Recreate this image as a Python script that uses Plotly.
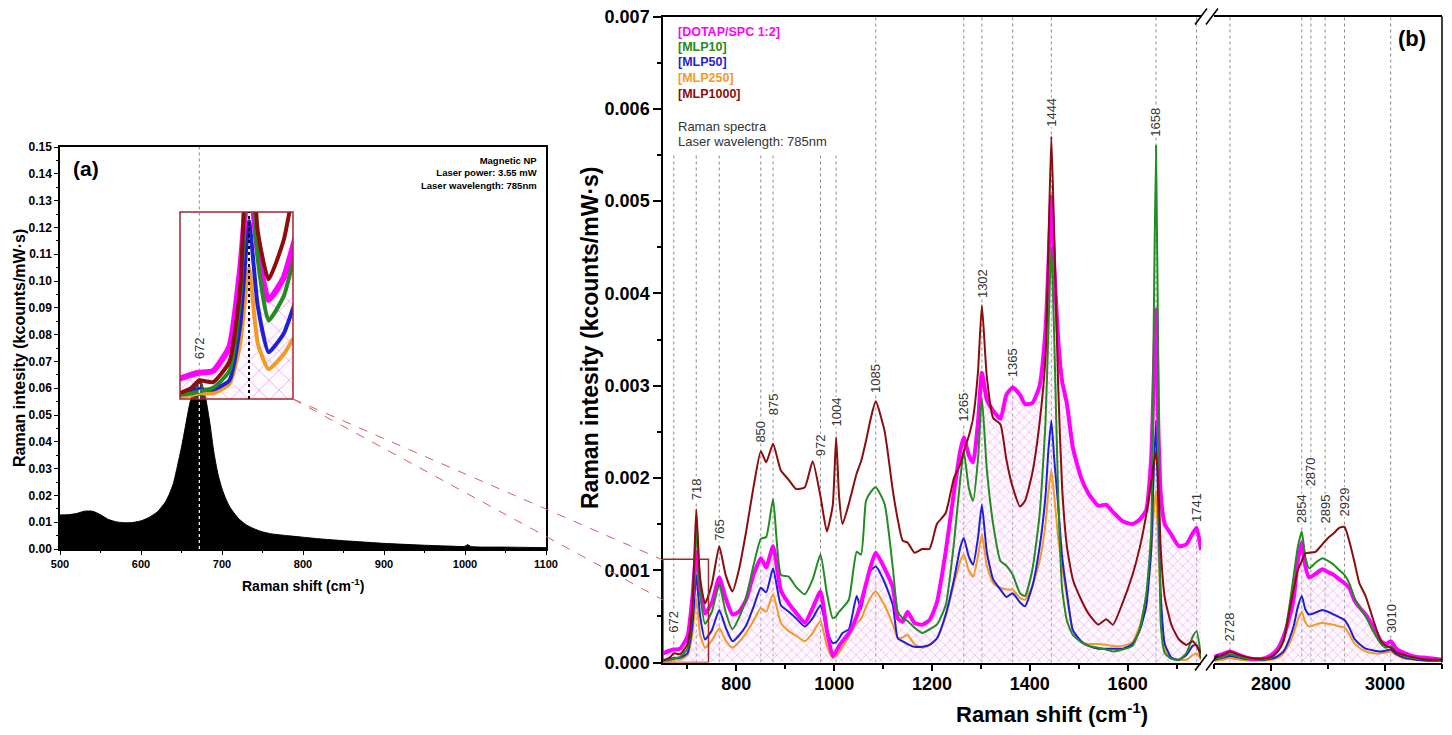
import plotly.graph_objects as go

FONT = "Liberation Sans"
PAGE_W, PAGE_H = 1452, 735
OFF = 8                       # default page body margin of the html page
W, H = PAGE_W - 2 * OFF, PAGE_H - 2 * OFF

# ---------------- panel (a): magnetic NP spectrum ----------------
np_shift = [500, 510, 520, 530, 540, 550, 560, 570, 580, 590, 600, 610, 620, 630, 635, 640, 645,
            650, 655, 660, 665, 670, 672, 675, 680, 685, 690, 695, 700, 705, 710, 720, 730, 740,
            750, 760, 780, 800, 820, 850, 880, 900, 950, 980, 1000, 1003, 1008, 1050, 1100]
np_int = [0.0127, 0.0128, 0.0132, 0.0141, 0.0141, 0.0128, 0.0110, 0.0101, 0.0098, 0.0099, 0.0105,
          0.0118, 0.0138, 0.0175, 0.0205, 0.0245, 0.031, 0.038, 0.046, 0.054, 0.060, 0.063, 0.0635,
          0.062, 0.056, 0.047, 0.036, 0.028, 0.0225, 0.0185, 0.0155, 0.0115, 0.009, 0.0075, 0.0064,
          0.0057, 0.005, 0.0044, 0.0038, 0.0031, 0.0025, 0.0021, 0.0014, 0.0011, 0.001, 0.0016,
          0.0009, 0.0007, 0.0005]

# ---------------- panel (b): liposome spectra ----------------
UNIT = 1e-4  # intensities below are in 1e-4 kcounts/mW·s
shift_lo = [650, 665, 672, 685, 700, 710, 718, 726, 736, 750,
            765, 778, 792, 805, 820, 835, 850, 861, 875, 891,
            907, 922, 940, 956, 972, 985, 997, 1004, 1010, 1017,
            1030, 1046, 1055, 1065, 1075, 1085, 1103, 1120, 1130, 1140,
            1150, 1164, 1180, 1195, 1210, 1228, 1245, 1258, 1265, 1275,
            1284, 1294, 1302, 1312, 1325, 1340, 1352, 1365, 1380, 1390,
            1405, 1420, 1432, 1438, 1444, 1450, 1458, 1466, 1476, 1488,
            1505, 1520, 1540, 1556, 1570, 1590, 1610, 1625, 1638, 1648,
            1653, 1658, 1663, 1668, 1676, 1690, 1705, 1720, 1733, 1741,
            1750]
dotap_lo = [1.0, 1.3, 1.4, 1.5, 2.8, 7.0, 12.0, 8.0, 5.3, 6.5,
            9.2, 7.0, 5.2, 5.5, 6.8, 9.5, 11.3, 10.3, 12.6, 7.8,
            6.4, 5.4, 4.3, 5.9, 7.7, 3.5, 0.7, 1.2, 1.8, 2.3,
            3.2, 5.0, 6.5, 8.5, 10.5, 11.9, 10.2, 8.1, 4.8, 4.4,
            5.5, 4.3, 4.1, 4.6, 6.5, 12.0, 18.5, 23.0, 24.4, 22.5,
            21.7, 26.0, 31.4, 28.5, 27.3, 26.4, 29.0, 29.8, 29.0, 28.0,
            28.1, 30.0, 36.0, 43.0, 50.5, 43.0, 35.0, 30.5, 28.0, 23.3,
            20.0, 18.3, 17.0, 17.1, 16.3, 15.3, 15.0, 15.5, 16.5, 22.0,
            30.0, 38.2, 25.0, 18.0, 15.0, 13.8, 12.6, 12.8, 14.0, 14.6,
            12.2]
mlp10_lo = [0.2, 0.3, 0.4, 0.6, 1.5, 5.5, 14.5, 7.5, 4.2, 5.5,
            8.5, 5.5, 3.6, 4.8, 7.0, 10.5, 13.4, 13.6, 17.7, 9.5,
            9.3, 8.2, 7.4, 9.0, 11.7, 7.5, 4.8, 5.0, 5.5, 5.9,
            6.8, 12.0, 11.7, 17.5, 18.5, 19.0, 17.2, 10.2, 5.5, 4.8,
            4.5, 3.8, 3.2, 3.6, 4.1, 6.2, 13.0, 20.0, 22.9, 19.0,
            17.5, 22.0, 28.7, 21.0, 15.0, 11.0, 10.5, 9.5, 7.5, 7.2,
            10.0, 16.0, 26.0, 36.0, 45.0, 35.0, 18.0, 8.0, 4.5, 3.0,
            2.2, 1.8, 1.6, 1.4, 1.2, 1.4, 1.8, 3.7, 7.4, 14.0,
            35.0, 56.0, 30.0, 4.0, 1.0, 0.4, 0.3, 1.0, 2.8, 3.4,
            0.6]
mlp50_lo = [0.2, 0.4, 0.5, 0.5, 1.0, 4.0, 9.5, 5.0, 2.5, 3.5,
            5.7, 3.8, 2.3, 2.9, 4.0, 6.0, 8.1, 7.6, 10.2, 6.2,
            5.5, 4.8, 3.9, 4.8, 6.2, 3.5, 2.1, 2.2, 2.6, 3.2,
            3.6, 7.2, 5.8, 8.5, 10.0, 10.4, 8.7, 6.2, 2.6, 2.3,
            2.0, 1.7, 1.7, 1.9, 2.6, 5.2, 9.0, 12.5, 13.5, 11.5,
            10.6, 13.5, 17.1, 12.0, 9.0, 7.9, 7.1, 7.5, 6.5, 6.1,
            8.2, 12.5, 18.0, 23.0, 26.2, 22.0, 17.0, 11.5, 7.5, 3.5,
            2.3, 1.8, 1.5, 1.5, 1.5, 1.5, 2.0, 3.5, 6.1, 12.0,
            20.0, 26.2, 16.0, 7.0, 2.0, 0.5, 0.3, 0.8, 1.8, 1.9,
            0.5]
mlp250_lo = [0.1, 0.2, 0.3, 0.3, 0.8, 3.0, 7.0, 3.0, 1.6, 2.4,
             3.7, 2.4, 1.6, 2.2, 3.2, 4.5, 5.9, 5.5, 7.4, 4.3,
             3.4, 2.9, 2.3, 3.2, 4.5, 1.8, 0.5, 0.7, 1.1, 1.7,
             2.8, 4.3, 4.7, 6.0, 7.1, 7.7, 6.2, 4.1, 2.7, 2.7,
             3.0, 2.0, 1.6, 1.9, 2.6, 5.0, 8.5, 11.0, 11.7, 10.0,
             9.3, 11.5, 13.9, 10.5, 8.6, 8.1, 7.9, 7.9, 7.0, 6.8,
             8.3, 11.0, 15.0, 18.5, 20.8, 18.0, 13.5, 10.5, 7.0, 3.5,
             2.2, 2.0, 2.0, 1.9, 1.8, 1.8, 2.2, 4.0, 7.0, 12.0,
             16.0, 18.6, 12.0, 6.0, 1.5, 0.4, 0.3, 0.3, 0.8, 1.0,
             0.3]
mlp1000_lo = [0.2, 0.6, 1.0, 0.9, 2.0, 6.0, 16.6, 9.0, 6.4, 8.5,
              12.6, 9.5, 7.7, 10.0, 14.2, 19.0, 22.9, 21.7, 23.7, 20.8,
              19.8, 18.8, 19.0, 21.8, 18.0, 14.2, 17.0, 24.4, 18.0, 15.0,
              17.2, 20.5, 21.8, 24.0, 26.5, 28.3, 25.1, 18.6, 15.5, 13.2,
              13.0, 11.9, 12.3, 12.3, 15.0, 16.2, 20.0, 21.5, 22.9, 24.5,
              26.5, 31.5, 38.7, 31.0, 26.5, 25.8, 22.0, 19.0, 16.9, 17.5,
              20.5, 26.0, 33.0, 45.0, 57.0, 46.0, 30.0, 19.0, 12.5, 9.0,
              6.8, 5.3, 4.1, 4.7, 4.1, 6.5, 9.5, 12.5, 16.0, 19.5,
              21.5, 22.8, 19.0, 12.0, 7.0, 4.0, 2.5, 1.9, 2.3, 1.8,
              1.0]

shift_hi = [2700, 2715, 2728, 2745, 2765, 2785, 2800, 2812, 2822, 2832,
            2840, 2847, 2854, 2860, 2867, 2878, 2890, 2900, 2910, 2920,
            2929, 2938, 2946, 2955, 2966, 2980, 2993, 3002, 3010, 3020,
            3035, 3055, 3075, 3100]
dotap_hi = [0.6, 0.9, 1.2, 0.8, 0.4, 0.4, 0.8, 1.5, 2.8, 4.8,
            7.0, 11.0, 13.0, 10.5, 9.2, 9.6, 10.1, 9.8, 9.5, 9.0,
            8.6, 8.0, 6.8, 6.0, 5.2, 3.8, 2.3, 2.0, 2.3, 1.5,
            1.0, 0.6, 0.5, 0.3]
mlp10_hi = [0.4, 0.6, 0.9, 0.6, 0.4, 0.3, 0.5, 1.2, 2.5, 6.0,
            9.5, 12.5, 14.2, 11.5, 10.2, 10.8, 11.3, 11.0, 10.6, 10.0,
            9.5, 8.5, 7.0, 6.0, 5.0, 3.3, 2.0, 1.6, 1.8, 1.1,
            0.7, 0.4, 0.3, 0.2]
mlp50_hi = [0.3, 0.5, 0.7, 0.5, 0.3, 0.3, 0.4, 0.7, 1.2, 2.5,
            4.0, 6.0, 7.2, 5.8, 5.2, 5.4, 5.7, 5.5, 5.2, 4.9,
            4.6, 3.7, 2.6, 2.0, 1.5, 1.3, 1.2, 1.3, 1.4, 0.9,
            0.5, 0.3, 0.2, 0.2]
mlp250_hi = [0.2, 0.3, 0.5, 0.3, 0.2, 0.2, 0.3, 0.5, 1.0, 2.0,
             3.2, 4.6, 5.5, 4.4, 3.9, 4.1, 4.3, 4.2, 4.1, 3.9,
             3.8, 3.0, 2.1, 1.6, 1.2, 1.0, 1.0, 1.1, 1.2, 0.8,
             0.4, 0.3, 0.2, 0.2]
mlp1000_hi = [0.5, 0.8, 1.2, 0.8, 0.5, 0.4, 0.6, 1.2, 2.3, 5.5,
              8.0, 10.0, 11.0, 11.8, 11.9, 12.0, 12.8, 13.5, 14.0, 14.6,
              14.7, 13.0, 11.0, 8.6, 7.2, 4.5, 2.3, 1.8, 1.6, 1.1,
              0.8, 0.5, 0.3, 0.3]

series_names = ["[DOTAP/SPC 1:2]", "[MLP10]", "[MLP50]", "[MLP250]", "[MLP1000]"]
series_colors = ["#FF00FF", "#228B22", "#1F1FD8", "#F39A26", "#8B0D0D"]

peaks_lo = [672, 718, 765, 850, 875, 972, 1004, 1085, 1265, 1302, 1365, 1444, 1658, 1741]
peaks_lo_label_y = [0.00044, 0.00188, 0.00144, 0.00250, 0.00280, 0.00236, 0.00271, 0.00308,
                    0.00277, 0.00411, 0.00325, 0.00596, 0.00585, 0.00168]
peaks_lo_top = [0.00551, 0.00551, 0.00551, 0.00551, 0.00551, 0.00551, 0.00551, 0.007,
                0.007, 0.007, 0.007, 0.007, 0.007, 0.007]
peaks_hi = [2728, 2854, 2870, 2895, 2929, 3010]
peaks_hi_label_y = [0.00039, 0.00167, 0.00207, 0.00166, 0.00174, 0.00048]

# ---------------- layout helpers (page pixels -> paper fractions) ----------------
def px(x):
    return (x - OFF) / W


def py(y):
    return 1 - (y - OFF) / H


lo_sets = [dotap_lo, mlp10_lo, mlp50_lo, mlp250_lo, mlp1000_lo]
hi_sets = [dotap_hi, mlp10_hi, mlp50_hi, mlp250_hi, mlp1000_hi]
for s in lo_sets:
    assert len(s) == len(shift_lo)
for s in hi_sets:
    assert len(s) == len(shift_hi)

fig = go.Figure()

# panel (a) spectrum
fig.add_trace(go.Scatter(x=np_shift, y=np_int, xaxis="x", yaxis="y", mode="lines",
                         line=dict(color="black", width=1, shape="spline", smoothing=0.6),
                         fill="tozeroy", fillcolor="black", hoverinfo="skip"))

HATCH = "rgba(225,110,225,0.7)"


def add_group(xs, sets, xa, ya, widths, hatch_size, solidity):
    scaled = [[v * UNIT for v in s] for s in sets]
    # crosshatch fill under DOTAP/SPC
    fig.add_trace(go.Scatter(x=xs, y=scaled[0], xaxis=xa, yaxis=ya, mode="lines",
                             line=dict(color="rgba(0,0,0,0)", width=0, shape="spline", smoothing=0.5),
                             fill="tozeroy", fillcolor="rgba(0,0,0,0)",
                             fillpattern=dict(shape="x", fgcolor=HATCH, bgcolor="rgba(255,235,255,0.25)",
                                              size=hatch_size, solidity=solidity),
                             hoverinfo="skip"))
    for i in [3, 2, 0, 1, 4]:
        fig.add_trace(go.Scatter(x=xs, y=scaled[i], xaxis=xa, yaxis=ya, mode="lines",
                                 line=dict(color=series_colors[i], width=widths[i],
                                           shape="spline", smoothing=0.5),
                                 hoverinfo="skip"))


add_group(shift_lo, lo_sets, "x2", "y2", [4, 2, 2, 2, 2], 7, 0.15)
add_group(shift_hi, hi_sets, "x4", "y2", [4, 2, 2, 2, 2], 7, 0.15)
add_group(shift_lo, lo_sets, "x3", "y3", [6, 4, 4, 4, 4], 14, 0.1)

tick_a_x = dict(family=FONT, size=11, color="black", weight="bold")
tick_a_y = dict(family=FONT, size=12, color="black", weight="bold")
tick_bold_b = dict(family=FONT, size=18, color="black", weight="bold")
common = dict(showline=True, linecolor="black", linewidth=1.5, ticks="outside", tickcolor="black",
              showgrid=False, zeroline=False, fixedrange=True, automargin=False,
              ticklabeloverflow="allow")

fig.update_layout(
    template="none",
    width=W, height=H, margin=dict(l=0, r=0, t=0, b=0, pad=0), autosize=False,
    paper_bgcolor="white", plot_bgcolor="rgba(0,0,0,0)", showlegend=False,
    xaxis=dict(domain=[px(60), px(546)], anchor="y", range=[500, 1100], tick0=500, dtick=100,
               ticklen=4, tickwidth=1, mirror=True, tickfont=tick_a_x,
               minor=dict(dtick=50, ticks="outside", ticklen=2, tickcolor="black", showgrid=False),
               **common),
    yaxis=dict(domain=[py(549), py(147)], anchor="x", range=[0, 0.150001], tick0=0, dtick=0.01,
               tickformat=".2f", ticklen=4, tickwidth=1, mirror=True, tickfont=tick_a_y,
               minor=dict(dtick=0.005, ticks="outside", ticklen=2, tickcolor="black", showgrid=False),
               **common),
    xaxis3=dict(domain=[px(180), px(293)], anchor="y3", range=[654.5, 758.5], visible=False,
                automargin=False, fixedrange=True),
    yaxis3=dict(domain=[py(399), py(212)], anchor="x3", range=[0, 0.001], visible=False,
                automargin=False, fixedrange=True),
    xaxis2=dict(domain=[px(663), px(1201)], anchor="y2", range=[650, 1750], tick0=800, dtick=200,
                ticklen=7, tickwidth=1.5, mirror=True, tickfont=tick_bold_b, ticklabelstandoff=-3,
                minor=dict(dtick=100, ticks="outside", ticklen=5, tickwidth=1.5, tickcolor="black",
                           showgrid=False),
                **common),
    xaxis4=dict(domain=[px(1214), px(1442)], anchor="y2", range=[2700, 3100], tick0=2800, dtick=200,
                ticklen=7, tickwidth=1.5, mirror=True, tickfont=tick_bold_b, ticklabelstandoff=-3,
                minor=dict(dtick=100, ticks="outside", ticklen=5, tickwidth=1.5, tickcolor="black",
                           showgrid=False),
                **common),
    yaxis2=dict(domain=[py(662.5), py(16.5)], anchor="x2", range=[0, 0.0070001], tick0=0, dtick=0.001,
                tickformat=".3f", ticklen=8, tickwidth=1.5, mirror=False, tickfont=tick_bold_b,
                minor=dict(dtick=0.0005, ticks="outside", ticklen=4, tickwidth=1.5, tickcolor="black",
                           showgrid=False),
                **common),
)

shapes = []
DOT = dict(color="#8a8a8a", width=1, dash="dot")
for xv, top in zip(peaks_lo, peaks_lo_top):
    shapes.append(dict(type="line", xref="x2", yref="y2", x0=xv, x1=xv, y0=0, y1=top,
                       line=DOT, layer="below"))
for xv in peaks_hi:
    shapes.append(dict(type="line", xref="x4", yref="y2", x0=xv, x1=xv, y0=0, y1=0.007,
                       line=DOT, layer="below"))
# right frame of panel (b)
shapes.append(dict(type="line", xref="paper", yref="paper", x0=px(1442), x1=px(1442),
                   y0=py(662.5), y1=py(16.5), line=dict(color="black", width=1.5)))
# axis-break marks
for yb in (16.5, 662.5):
    for xb in (1195, 1206):
        shapes.append(dict(type="line", xref="paper", yref="paper", x0=px(xb), x1=px(xb + 12),
                           y0=py(yb + 8), y1=py(yb - 8), line=dict(color="black", width=1.5)))
# zoom box in panel (b)
RED = "#A3262C"
shapes.append(dict(type="rect", xref="x2", yref="y2", x0=650, x1=743, y0=0, y1=0.00112,
                   line=dict(color=RED, width=1.5)))
# inset frame in panel (a)
shapes.append(dict(type="rect", xref="x3 domain", yref="y3 domain", x0=0, x1=1, y0=0, y1=1,
                   line=dict(color=RED, width=1.5)))
# inset 718 marker
shapes.append(dict(type="line", xref="x3", yref="y3 domain", x0=718, x1=718, y0=0, y1=1,
                   line=dict(color="black", width=2, dash="dot")))
# 672 line in panel (a)
shapes.append(dict(type="line", xref="x", yref="y", x0=672, x1=672, y0=0.064, y1=0.15,
                   line=dict(color="#8a8a8a", width=1, dash="dot")))
shapes.append(dict(type="line", xref="x", yref="y", x0=672, x1=672, y0=0, y1=0.062,
                   line=dict(color="white", width=1.2, dash="dot")))
# connection lines
for yend in (560, 600):
    shapes.append(dict(type="line", xref="paper", yref="paper", x0=px(293), y0=py(399),
                       x1=px(663), y1=py(yend), line=dict(color="#D06060", width=1, dash="dash")))
fig.update_layout(shapes=shapes)

ann = []
LBL = dict(family=FONT, size=13, color="#333333")


def note(**kw):
    base = dict(showarrow=False, xanchor="center", yanchor="middle")
    base.update(kw)
    ann.append(base)


for xv, yv in zip(peaks_lo, peaks_lo_label_y):
    note(x=xv, y=yv, xref="x2", yref="y2", text=str(xv), textangle=-90,
         font=LBL, bgcolor="white", borderpad=0)
for xv, yv in zip(peaks_hi, peaks_hi_label_y):
    note(x=xv, y=yv, xref="x4", yref="y2", text=str(xv), textangle=-90,
         font=LBL, bgcolor="white", borderpad=0)
note(x=672, y=0.075, xref="x", yref="y", text="672", textangle=-90,
     font=LBL, bgcolor="white", borderpad=0)

# legend text for (b)
leg_y = [31.5, 47, 62.5, 78, 94]
for name, col, yy in zip(series_names, series_colors, leg_y):
    note(x=px(676), y=py(yy), xref="paper", yref="paper", text=name, xanchor="left",
         font=dict(family=FONT, size=12.5, color=col, weight="bold"))
note(x=px(676), y=py(126), xref="paper", yref="paper", text="Raman spectra", xanchor="left",
     font=dict(family=FONT, size=13, color="#333"))
note(x=px(676), y=py(141), xref="paper", yref="paper", text="Laser wavelength: 785nm", xanchor="left",
     font=dict(family=FONT, size=13, color="#333"))
note(x=px(1412), y=py(39), xref="paper", yref="paper", text="(b)",
     font=dict(family=FONT, size=22, color="black", weight="bold"))
note(x=px(86), y=py(168), xref="paper", yref="paper", text="(a)",
     font=dict(family=FONT, size=21, color="black", weight="bold"))
note(x=px(539), y=py(153), xref="paper", yref="paper",
     text="Magnetic NP<br>Laser power: 3.55 mW<br>Laser wavelength: 785nm",
     xanchor="right", yanchor="top", align="right",
     font=dict(family=FONT, size=9.5, color="black", weight="bold"))
# axis titles
note(x=px(303), y=py(585), xref="paper", yref="paper", text="Raman shift (cm<sup>-1</sup>)",
     font=dict(family=FONT, size=14, color="black", weight="bold"))
note(x=px(19), y=py(348), xref="paper", yref="paper", text="Raman intesity (kcounts/mW·s)",
     textangle=-90, font=dict(family=FONT, size=16, color="black", weight="bold"))
note(x=px(1052), y=py(713), xref="paper", yref="paper", text="Raman shift (cm<sup>-1</sup>)",
     font=dict(family=FONT, size=22, color="black", weight="bold"))
note(x=px(590), y=py(338), xref="paper", yref="paper", text="Raman intesity (kcounts/mW·s)",
     textangle=-90, font=dict(family=FONT, size=23, color="black", weight="bold"))
fig.update_layout(annotations=ann)

fig.write_html("out.html")
